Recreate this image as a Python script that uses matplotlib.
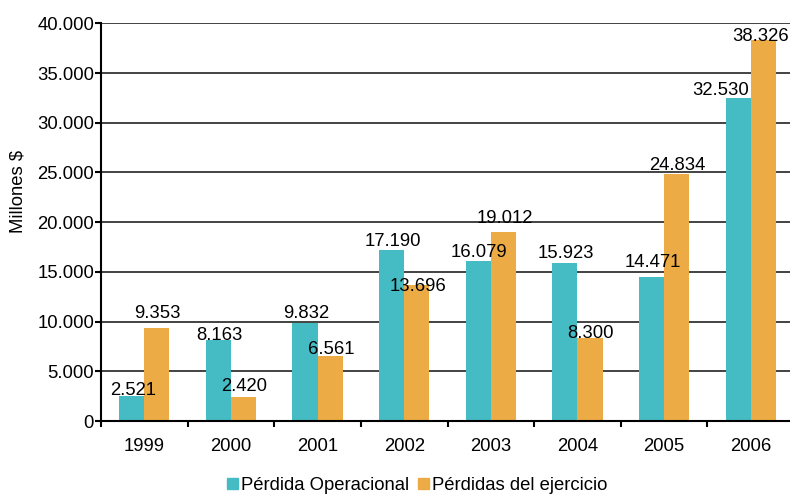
import matplotlib
matplotlib.use("Agg")
import matplotlib.pyplot as plt
from matplotlib.patches import Patch
from matplotlib.ticker import FuncFormatter, FixedLocator
import numpy as np

plt.rcParams['font.family'] = ['Liberation Sans', 'DejaVu Sans']

years = ['1999', '2000', '2001', '2002', '2003', '2004', '2005', '2006']
perdida_operacional = [2521, 8163, 9832, 17190, 16079, 15923, 14471, 32530]
perdidas_ejercicio = [9353, 2420, 6561, 13696, 19012, 8300, 24834, 38326]
series_names = ['Pérdida Operacional', 'Pérdidas del ejercicio']

# label nudges in pixels (baseline above bar top / horizontal shift)
dy_oper = [1, 0, 5, 4, 4, 5, 10, 3]
dy_ejer = [10, 6, 2, -6, 9, 0, 4, -1]
dx_oper = [1, 1, 1, 1, 1, 1, 1, -18]
dx_ejer = [1, 1, 1, 1, 1, 1, 1, -3]

teal = '#45BCC4'
orange = '#EDAB46'
fs = 13.3


def miles(v, pos=None):
    return f"{int(v):,}".replace(',', '.')


def main():
    fig = plt.figure(figsize=(7.9, 4.95), dpi=100)
    ax = fig.add_axes([101 / 790, 74 / 495, 693 / 790, 397.7 / 495])

    x = np.arange(len(years))
    w = 0.29
    b1 = ax.bar(x - w / 2, perdida_operacional, w, color=teal, zorder=3)
    b2 = ax.bar(x + w / 2, perdidas_ejercicio, w, color=orange, zorder=3)

    # annotate bars
    for bars, vals, dys, dxs in [(b1, perdida_operacional, dy_oper, dx_oper),
                                 (b2, perdidas_ejercicio, dy_ejer, dx_ejer)]:
        for r, v, dy, dx in zip(bars, vals, dys, dxs):
            ax.annotate(miles(v), (r.get_x() + r.get_width() / 2, v),
                        xytext=(dx, dy), textcoords='offset pixels',
                        ha='center', va='baseline', fontsize=fs, zorder=5)

    ax.set_xlim(-0.5, len(years) - 0.5)
    ax.set_ylim(0, 40000)
    ax.set_yticks(np.arange(0, 40001, 5000))
    ax.yaxis.set_major_formatter(FuncFormatter(miles))
    ax.set_xticks(x)
    ax.set_xticklabels(years)
    ax.xaxis.set_minor_locator(FixedLocator(np.arange(-0.5, len(years), 1.0)))

    ax.tick_params(axis='x', which='major', length=0, pad=12, labelsize=fs)
    ax.tick_params(axis='x', which='minor', length=4.5, width=1.5, direction='out', color='black')
    ax.tick_params(axis='y', length=4, width=1.5, pad=1, labelsize=fs, color='black')

    ax.yaxis.grid(True, color='#222222', linewidth=1.2, zorder=0)
    ax.set_axisbelow(True)
    for s in ['top', 'right']:
        ax.spines[s].set_visible(False)
    ax.spines['left'].set_linewidth(1.5)
    ax.spines['bottom'].set_linewidth(1.5)
    ax.spines['left'].set_zorder(4)
    ax.spines['bottom'].set_zorder(4)

    ax.set_ylabel('Millones $', fontsize=fs)
    ax.yaxis.set_label_coords(-74 / 693, 0.578)

    handles = [Patch(color=teal), Patch(color=orange)]
    fig.legend(handles, series_names, loc='center', bbox_to_anchor=(417 / 790, 9.5 / 495),
               ncol=2, frameon=False, fontsize=fs, handlelength=0.6, handleheight=0.6,
               handletextpad=0.15, columnspacing=0.5, borderpad=0)

    plt.savefig('out.png', dpi=100)


if __name__ == "__main__":
    main()
